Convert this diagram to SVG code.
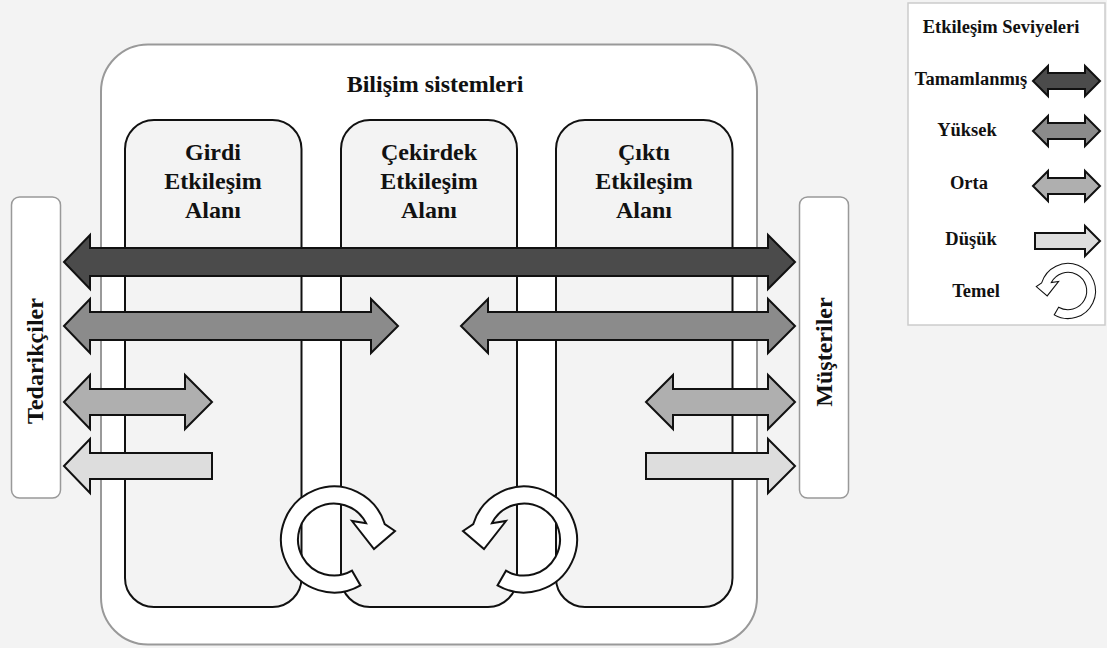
<svg xmlns="http://www.w3.org/2000/svg" xmlns:xlink="http://www.w3.org/1999/xlink" width="1107" height="648" viewBox="0 0 1107 648">
<style>
.t{font-family:"Liberation Serif","Times New Roman",serif;font-weight:bold;fill:#111}
.t24{font-size:24px}
.t15{font-size:18.5px}
.arr{stroke:#111;stroke-width:2;stroke-linejoin:miter}
.c1{fill:#4b4b4b}
.c2{fill:#8b8b8b}
.c3{fill:#afafaf}
.c4{fill:#dddddd}
.panel{fill:#f3f3f3;stroke:#111;stroke-width:2}
.side{fill:#fff;stroke:#999;stroke-width:1.5}
.ring{fill:#fff;stroke:#111;stroke-width:2;stroke-linejoin:miter}
</style>
<defs>
<path id="circ" class="ring" d="M26.5,45.9 A53,53 0 1 1 50.7,-15.5 L61,-8.5 L40,9.5 L18,-18.5 L32.1,-16.3 A36,36 0 1 0 18,31.2 Z"/>
</defs>
<rect x="0" y="0" width="1107" height="648" fill="#f3f3f3"/>

<g id="bilisim-sistemleri">
<rect x="101" y="44.5" width="656" height="600" rx="47" fill="#fff" stroke="#999" stroke-width="2"/>
<text class="t t24" x="435" y="92" text-anchor="middle">Bilişim sistemleri</text>
</g>

<g id="girdi">
<rect class="panel" x="125" y="120" width="176.5" height="487" rx="29"/>
<text class="t t24" text-anchor="middle"><tspan x="213" y="160">Girdi</tspan><tspan x="213" y="189">Etkileşim</tspan><tspan x="213" y="218">Alanı</tspan></text>
</g>
<g id="cekirdek">
<rect class="panel" x="341" y="120" width="176" height="487" rx="29"/>
<text class="t t24" text-anchor="middle"><tspan x="429" y="160">Çekirdek</tspan><tspan x="429" y="189">Etkileşim</tspan><tspan x="429" y="218">Alanı</tspan></text>
</g>
<g id="cikti">
<rect class="panel" x="556" y="120" width="176.5" height="487" rx="29"/>
<text class="t t24" text-anchor="middle"><tspan x="644" y="160">Çıktı</tspan><tspan x="644" y="189">Etkileşim</tspan><tspan x="644" y="218">Alanı</tspan></text>
</g>

<g id="tedarikciler">
<rect class="side" x="11.5" y="197" width="49" height="301" rx="8"/>
<text class="t t24" transform="translate(43,361) rotate(-90)" text-anchor="middle">Tedarikçiler</text>
</g>
<g id="musteriler">
<rect class="side" x="799.5" y="197" width="49" height="301" rx="8"/>
<text class="t t24" transform="translate(832,352) rotate(-90)" text-anchor="middle">Müşteriler</text>
</g>

<g id="connectors">
<polygon class="arr c1" points="64,262 90,235 90,248 768,248 768,235 795,262 768,289 768,276 90,276 90,289"/>
<polygon class="arr c2" points="64,326 90,299 90,312 371,312 371,299 398,326 371,353 371,340 90,340 90,353"/>
<polygon class="arr c2" points="461,326 488,299 488,312 768,312 768,299 795,326 768,353 768,340 488,340 488,353"/>
<polygon class="arr c3" points="64,402 90,375 90,389 185,389 185,375 212,402 185,429 185,415 90,415 90,429"/>
<polygon class="arr c3" points="646,402 673,375 673,389 768,389 768,375 795,402 768,429 768,415 673,415 673,429"/>
<polygon class="arr c4" points="64,466 90,439 90,453 212,453 212,479 90,479 90,493"/>
<polygon class="arr c4" points="646,453 768,453 768,439 795,466 768,493 768,479 646,479"/>
<use xlink:href="#circ" href="#circ" transform="translate(334,539.5)"/>
<use xlink:href="#circ" href="#circ" transform="translate(524,539.5) scale(-1,1)"/>
</g>

<g id="legend">
<rect x="908" y="3" width="197" height="322" fill="#fff" stroke="#ccc" stroke-width="1.5"/>
<text class="t t15" x="1001" y="33" text-anchor="middle">Etkileşim Seviyeleri</text>
<text class="t t15" x="971" y="85" text-anchor="middle">Tamamlanmış</text>
<text class="t t15" x="967" y="136" text-anchor="middle">Yüksek</text>
<text class="t t15" x="969" y="189" text-anchor="middle">Orta</text>
<text class="t t15" x="971" y="245" text-anchor="middle">Düşük</text>
<text class="t t15" x="976" y="297" text-anchor="middle">Temel</text>
<polygon class="arr c1" points="1033,81 1048,66 1048,73 1085,73 1085,66 1100,81 1085,96 1085,89 1048,89 1048,96"/>
<polygon class="arr c2" points="1033,131 1048,116 1048,123 1085,123 1085,116 1100,131 1085,146 1085,139 1048,139 1048,146"/>
<polygon class="arr c3" points="1033,186 1048,171 1048,178 1085,178 1085,171 1100,186 1085,201 1085,194 1048,194 1048,201"/>
<polygon class="arr c4" points="1035,233 1085,233 1085,226 1100,241 1085,256 1085,249 1035,249"/>
<use xlink:href="#circ" href="#circ" transform="translate(1068,291) scale(-0.52,0.52)" style="stroke-width:3.5"/>
</g>
</svg>
